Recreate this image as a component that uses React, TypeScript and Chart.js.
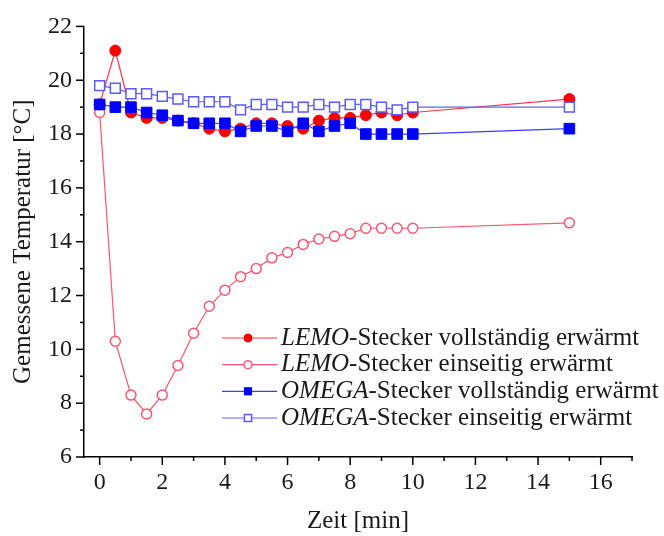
import React, { useEffect, useRef } from 'react';
import { Chart, registerables } from 'chart.js';

Chart.register(...registerables);

// ---- data ----
const timeMin = [0, 0.5, 1, 1.5, 2, 2.5, 3, 3.5, 4, 4.5, 5, 5.5, 6, 6.5, 7, 7.5, 8, 8.5, 9, 9.5, 10, 15];
const lemoFull = [19.1, 21.1, 18.8, 18.6, 18.6, 18.5, 18.4, 18.2, 18.1, 18.2, 18.4, 18.4, 18.3, 18.2, 18.5, 18.6, 18.6, 18.7, 18.8, 18.7, 18.8, 19.3];
const lemoHalf = [18.8, 10.3, 8.3, 7.6, 8.3, 9.4, 10.6, 11.6, 12.2, 12.7, 13.0, 13.4, 13.6, 13.9, 14.1, 14.2, 14.3, 14.5, 14.5, 14.5, 14.5, 14.7];
const omegaFull = [19.1, 19.0, 19.0, 18.8, 18.7, 18.5, 18.4, 18.4, 18.4, 18.1, 18.3, 18.3, 18.1, 18.4, 18.1, 18.3, 18.4, 18.0, 18.0, 18.0, 18.0, 18.2];
const omegaHalf = [19.8, 19.7, 19.5, 19.5, 19.4, 19.3, 19.2, 19.2, 19.2, 18.9, 19.1, 19.1, 19.0, 19.0, 19.1, 19.0, 19.1, 19.1, 19.0, 18.9, 19.0, 19.0];

const seriesBrand = ['LEMO', 'LEMO', 'OMEGA', 'OMEGA'];
const seriesSuffix = [
  '-Stecker vollständig erwärmt',
  '-Stecker einseitig erwärmt',
  '-Stecker vollständig erwärmt',
  '-Stecker einseitig erwärmt',
];

const xTitle = 'Zeit [min]';
const yTitle = 'Gemessene Temperatur [°C]';
const xMin = -0.5, xMax = 17, xStep = 2;
const yMin = 6, yMax = 22, yStep = 2;

const FONT = '"Liberation Serif", "Times New Roman", serif';
const TEXT = '#1a1a1a';

const toPts = (arr: number[]) => timeMin.map((t, i) => ({ x: t, y: arr[i] }));

function drawMarker(ctx: CanvasRenderingContext2D, style: string, x: number, y: number, r: number, fill: string, stroke: string, lw: number) {
  ctx.beginPath();
  if (style === 'rect') {
    ctx.rect(x - r, y - r, 2 * r, 2 * r);
  } else {
    ctx.arc(x, y, r, 0, Math.PI * 2);
  }
  ctx.fillStyle = fill;
  ctx.fill();
  ctx.lineWidth = lw;
  ctx.strokeStyle = stroke;
  ctx.stroke();
}

const ticksPlugin = {
  id: 'minorMajorTicks',
  afterDraw(chart: any) {
    const ctx = chart.ctx as CanvasRenderingContext2D;
    const xs = chart.scales.x;
    const ys = chart.scales.y;
    ctx.save();
    ctx.strokeStyle = '#000';
    ctx.lineWidth = 1.5;
    for (let v = Math.ceil(xMin); v <= xMax; v += 1) {
      const px = xs.getPixelForValue(v);
      const len = v % 2 === 0 ? 8 : 4;
      ctx.beginPath();
      ctx.moveTo(px, ys.bottom);
      ctx.lineTo(px, ys.bottom + len);
      ctx.stroke();
    }
    for (let v = yMin; v <= yMax; v += 1) {
      const py = ys.getPixelForValue(v);
      const len = v % 2 === 0 ? 8 : 4;
      ctx.beginPath();
      ctx.moveTo(xs.left, py);
      ctx.lineTo(xs.left - len, py);
      ctx.stroke();
    }
    ctx.restore();
  },
};

const legendPlugin = {
  id: 'mixedLegend',
  afterDraw(chart: any) {
    const ctx = chart.ctx as CanvasRenderingContext2D;
    ctx.save();
    const x0 = 222, x1 = 277, mx = 248, tx = 281;
    const rowY = [338, 364.7, 391.3, 418];
    chart.data.datasets.forEach((ds: any, i: number) => {
      const y = rowY[i];
      ctx.beginPath();
      ctx.moveTo(x0, y);
      ctx.lineTo(x1, y);
      ctx.strokeStyle = ds.borderColor;
      ctx.lineWidth = 1.2;
      ctx.stroke();
      const r = ds.pointStyle === 'rect' ? 3.6 : 4;
      drawMarker(ctx, ds.pointStyle, mx, y, r, ds.pointBackgroundColor, ds.pointBorderColor, ds.pointBorderWidth);
      ctx.fillStyle = TEXT;
      ctx.textBaseline = 'middle';
      ctx.textAlign = 'left';
      ctx.font = `italic 25px ${FONT}`;
      ctx.fillText(seriesBrand[i], tx, y);
      const w = ctx.measureText(seriesBrand[i]).width;
      ctx.font = `25px ${FONT}`;
      ctx.fillText(seriesSuffix[i], tx + w, y);
    });
    ctx.restore();
  },
};

export default function App() {
  const canvasRef = useRef<HTMLCanvasElement | null>(null);

  useEffect(() => {
    document.body.style.margin = '0';
    const canvas = canvasRef.current;
    if (!canvas) return;
    Chart.defaults.font.family = FONT;
    const chart = new Chart(canvas, {
      type: 'line',
      data: {
        datasets: [
          {
            label: seriesBrand[0] + seriesSuffix[0],
            data: toPts(lemoFull),
            borderColor: '#ff3344',
            borderWidth: 1.2,
            pointStyle: 'circle',
            pointRadius: 5.5,
            pointBackgroundColor: '#ff0000',
            pointBorderColor: '#ff0000',
            pointBorderWidth: 1,
            order: 3,
          },
          {
            label: seriesBrand[1] + seriesSuffix[1],
            data: toPts(lemoHalf),
            borderColor: '#ff5570',
            borderWidth: 1.2,
            pointStyle: 'circle',
            pointRadius: 5,
            pointBackgroundColor: '#ffffff',
            pointBorderColor: '#ff5570',
            pointBorderWidth: 1.5,
            order: 4,
          },
          {
            label: seriesBrand[2] + seriesSuffix[2],
            data: toPts(omegaFull),
            borderColor: '#3d3dff',
            borderWidth: 1.2,
            pointStyle: 'rect',
            pointRadius: 7.5,
            pointBackgroundColor: '#0000ff',
            pointBorderColor: '#0000ff',
            pointBorderWidth: 1,
            order: 2,
          },
          {
            label: seriesBrand[3] + seriesSuffix[3],
            data: toPts(omegaHalf),
            borderColor: '#6060ff',
            borderWidth: 1.2,
            pointStyle: 'rect',
            pointRadius: 7,
            pointBackgroundColor: '#ffffff',
            pointBorderColor: '#5a5aff',
            pointBorderWidth: 1.5,
            order: 1,
          },
        ],
      },
      options: {
        responsive: false,
        animation: false,
        devicePixelRatio: 1,
        layout: { padding: { left: 0, top: 16, right: 32, bottom: 0 } },
        plugins: {
          legend: { display: false },
          tooltip: { enabled: false },
        },
        elements: { line: { tension: 0 } },
        scales: {
          x: {
            type: 'linear',
            min: xMin,
            max: xMax,
            grid: { display: false, drawTicks: false },
            border: { display: true, color: '#000', width: 1.5 },
            ticks: {
              stepSize: xStep,
              includeBounds: false,
              color: TEXT,
              font: { size: 24, family: FONT },
              padding: 11,
              maxRotation: 0,
            },
            title: { display: true, text: xTitle, color: TEXT, font: { size: 25, family: FONT }, padding: 0 },
            afterFit: (s: any) => { s.height = 79; },
          },
          y: {
            type: 'linear',
            min: yMin,
            max: yMax,
            grid: { display: false, drawTicks: false },
            border: { display: true, color: '#000', width: 1.5 },
            ticks: {
              stepSize: yStep,
              includeBounds: false,
              color: TEXT,
              font: { size: 24, family: FONT },
              padding: 12,
            },
            title: { display: true, text: yTitle, color: TEXT, font: { size: 25, family: FONT }, padding: { top: 8, bottom: 0 } },
            afterFit: (s: any) => { s.width = 84; },
          },
        },
      },
      plugins: [ticksPlugin, legendPlugin],
    } as any);
    return () => chart.destroy();
  }, []);

  return (
    <div style={{ position: 'absolute', left: 0, top: 0, width: 664, height: 536, background: '#fff' }}>
      <canvas ref={canvasRef} width={664} height={536} />
    </div>
  );
}
